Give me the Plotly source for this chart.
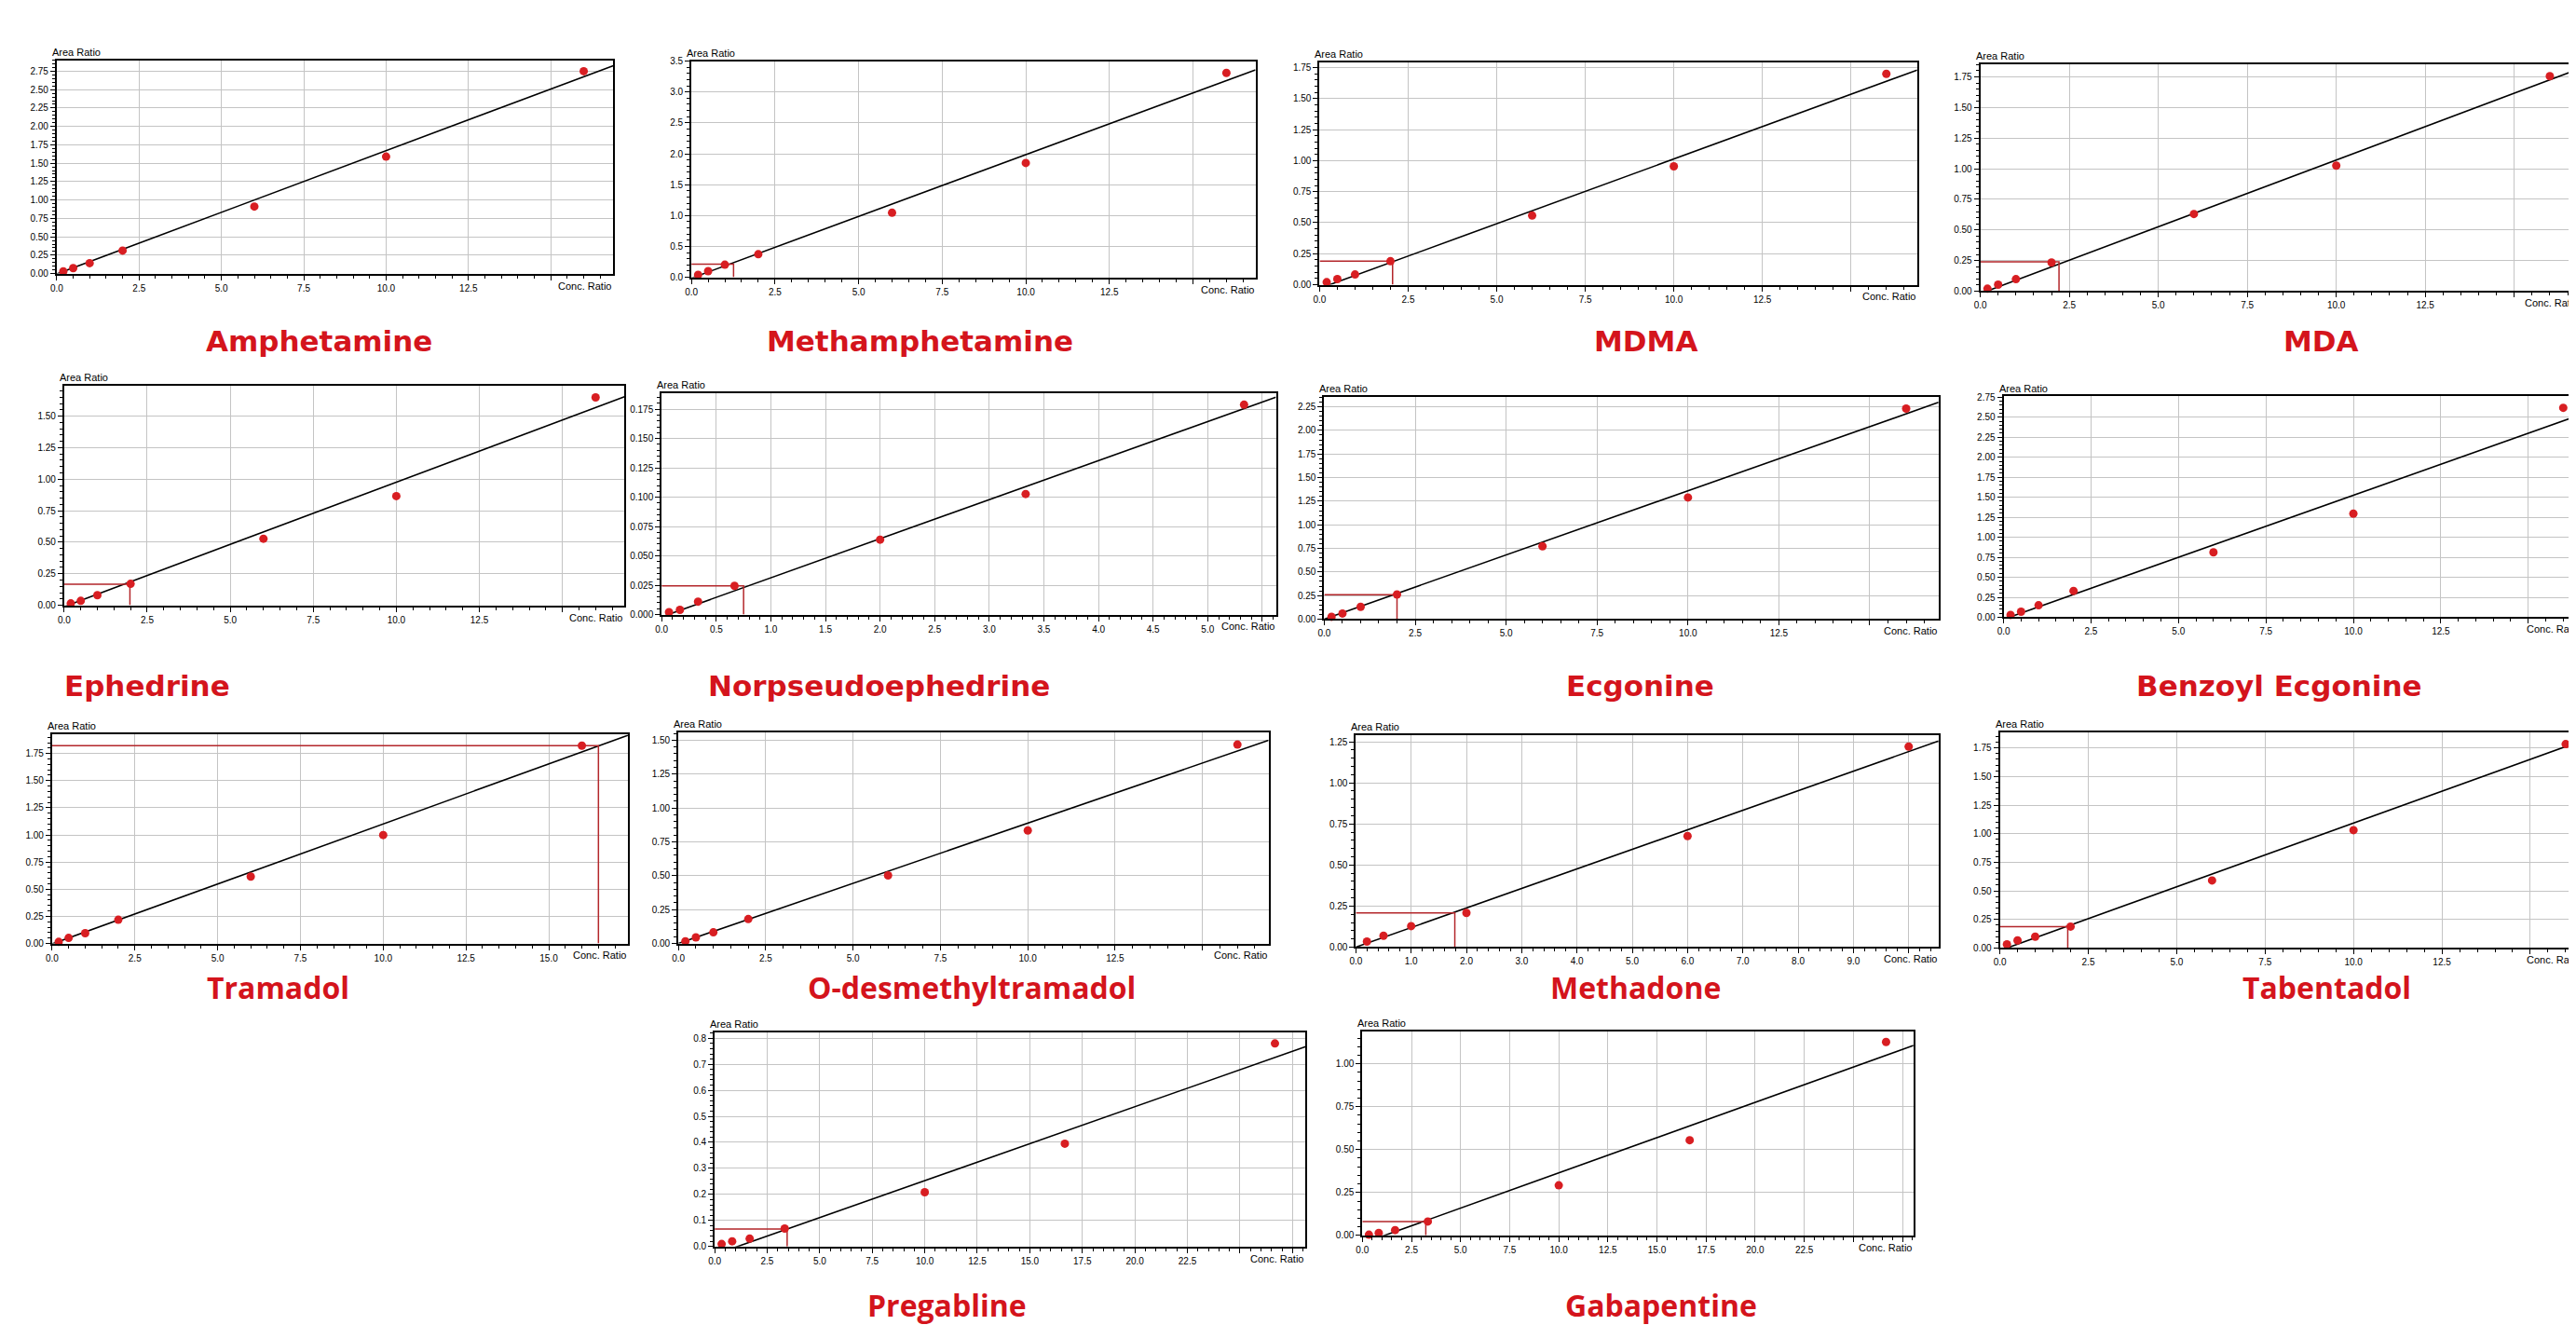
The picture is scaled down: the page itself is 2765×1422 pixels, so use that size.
import plotly.graph_objects as go

W, H = 2765, 1422

# ---------------- data ----------------
names = ["Amphetamine", "Methamphetamine", "MDMA", "MDA",
         "Ephedrine", "Norpseudoephedrine", "Ecgonine", "Benzoyl Ecgonine",
         "Tramadol", "O-desmethyltramadol", "Methadone", "Tabentadol",
         "Pregabline", "Gabapentine"]

amphetamine_conc = [0.2, 0.5, 1.0, 2.0, 6.0, 10.0, 16.0]
amphetamine_area = [0.03, 0.075, 0.142, 0.313, 0.911, 1.589, 2.75]
methamphetamine_conc = [0.2, 0.5, 1.0, 2.0, 6.0, 10.0, 16.0]
methamphetamine_area = [0.04, 0.10, 0.204, 0.373, 1.045, 1.851, 3.308]
mdma_conc = [0.2, 0.5, 1.0, 2.0, 6.0, 10.0, 16.0]
mdma_area = [0.02, 0.045, 0.082, 0.189, 0.557, 0.954, 1.70]
mda_conc = [0.2, 0.5, 1.0, 2.0, 6.0, 10.0, 16.0]
mda_area = [0.02, 0.053, 0.098, 0.234, 0.63, 1.025, 1.755]
ephedrine_conc = [0.2, 0.5, 1.0, 2.0, 6.0, 10.0, 16.0]
ephedrine_area = [0.015, 0.035, 0.08, 0.17, 0.528, 0.866, 1.649]
norpseudoephedrine_conc = [0.067, 0.167, 0.333, 0.667, 2.0, 3.333, 5.333]
norpseudoephedrine_area = [0.002, 0.004, 0.011, 0.0244, 0.0638, 0.1027, 0.1788]
ecgonine_conc = [0.2, 0.5, 1.0, 2.0, 6.0, 10.0, 16.0]
ecgonine_area = [0.025, 0.06, 0.13, 0.261, 0.772, 1.289, 2.231]
benzoylecgonine_conc = [0.2, 0.5, 1.0, 2.0, 6.0, 10.0, 16.0]
benzoylecgonine_area = [0.03, 0.07, 0.15, 0.33, 0.812, 1.295, 2.618]
tramadol_conc = [0.2, 0.5, 1.0, 2.0, 6.0, 10.0, 16.0]
tramadol_area = [0.014, 0.051, 0.094, 0.218, 0.616, 0.999, 1.822]
odesmethyltramadol_conc = [0.2, 0.5, 1.0, 2.0, 6.0, 10.0, 16.0]
odesmethyltramadol_area = [0.016, 0.045, 0.082, 0.18, 0.502, 0.834, 1.468]
methadone_conc = [0.2, 0.5, 1.0, 2.0, 6.0, 10.0]
methadone_area = [0.034, 0.069, 0.128, 0.208, 0.676, 1.22]
tabentadol_conc = [0.2, 0.5, 1.0, 2.0, 6.0, 10.0, 16.0]
tabentadol_area = [0.032, 0.067, 0.099, 0.188, 0.591, 1.031, 1.783]
pregabline_conc = [0.333, 0.833, 1.667, 3.333, 10.0, 16.667, 26.667]
pregabline_area = [0.0095, 0.02, 0.03, 0.069, 0.2085, 0.395, 0.78]
gabapentine_conc = [0.333, 0.833, 1.667, 3.333, 10.0, 16.667, 26.667]
gabapentine_area = [0.004, 0.014, 0.031, 0.081, 0.292, 0.555, 1.127]

conc = [amphetamine_conc, methamphetamine_conc, mdma_conc, mda_conc,
        ephedrine_conc, norpseudoephedrine_conc, ecgonine_conc, benzoylecgonine_conc,
        tramadol_conc, odesmethyltramadol_conc, methadone_conc, tabentadol_conc,
        pregabline_conc, gabapentine_conc]
area = [amphetamine_area, methamphetamine_area, mdma_area, mda_area,
        ephedrine_area, norpseudoephedrine_area, ecgonine_area, benzoylecgonine_area,
        tramadol_area, odesmethyltramadol_area, methadone_area, tabentadol_area,
        pregabline_area, gabapentine_area]

# calibration line (slope, intercept)
slopes = [0.1675, 0.200, 0.1043, 0.1091, 0.0987, 0.0333, 0.136, 0.155,
          0.1106, 0.0888, 0.119, 0.1115, 0.0284, 0.0411]
intercepts = [-0.005, -0.015, -0.030, -0.020, -0.011, -0.002, 0.0, -0.025,
              -0.005, 0.0, 0.0, -0.022, -0.031, -0.0465]

# red read-off marker (conc, area); None where absent
cross_x = [None, 1.26, 2.06, 2.21, 1.98, 0.75, 2.0, None,
           16.5, None, 1.79, 1.92, 3.45, 3.23]
cross_y = [None, 0.214, 0.189, 0.239, 0.167, 0.0244, 0.26, None,
           1.822, None, 0.208, 0.188, 0.0675, 0.081]

# axes
x_max = [16.9, 16.87, 16.87, 16.84, 16.87, 5.625, 16.89, 16.87,
         17.4, 16.89, 10.54, 16.87, 28.13, 28.06]
y_max = [2.9, 3.5, 1.795, 1.856, 1.744, 0.189, 2.35, 2.76,
         1.924, 1.555, 1.2875, 1.882, 0.8235, 1.19]
x_step = [2.5, 2.5, 2.5, 2.5, 2.5, 0.5, 2.5, 2.5, 2.5, 2.5, 1.0, 2.5, 2.5, 2.5]
x_last_label = [12.5, 12.5, 12.5, 12.5, 12.5, 5.0, 12.5, 12.5, 15.0, 12.5, 9.0, 12.5, 22.5, 22.5]
y_step = [0.25, 0.5, 0.25, 0.25, 0.25, 0.025, 0.25, 0.25, 0.25, 0.25, 0.25, 0.25, 0.1, 0.25]
y_decimals = [2, 1, 2, 2, 2, 3, 2, 2, 2, 2, 2, 2, 1, 2]

# ---------------- layout (pixel boxes: left, right, top, bottom) ----------------
boxes = [(46, 645, 51, 282), (729, 1336, 52, 286), (1405, 2048, 53, 294), (2116, 2761, 55, 301),
         (54, 657, 403, 641), (697, 1358, 411, 651), (1410, 2071, 416, 656), (2141, 2776, 415, 654),
         (41, 661, 781, 1007), (715, 1350, 779, 1007), (1444, 2071, 782, 1011), (2137, 2779, 779, 1012),
         (754, 1390, 1103, 1335), (1451, 2044, 1102, 1323)]
label_pos = [(328, 355), (975, 355), (1756, 355), (2483, 355),
             (143, 728), (931, 728), (1750, 728), (2438, 728),
             (284, 1054), (1031, 1054), (1745, 1054), (2489, 1054),
             (1004, 1398), (1772, 1398)]

RED = "#d4141c"
DOT = "#d81e22"
XRED = "#b3262a"
GRID = "#c4c4c4"
TICKFONT = dict(family="Liberation Sans, Arial, sans-serif", size=10, color="black")

fig = go.Figure()
layout = dict(width=W, height=H, margin=dict(l=0, r=0, t=0, b=0),
              paper_bgcolor="white", plot_bgcolor="white", showlegend=False)
annotations = []

for i in range(len(names)):
    n = i + 1
    L, R, T, B = boxes[i]
    clipped = R > W
    Rd = min(R, W)
    xm = x_max[i] * (Rd - L) / (R - L)
    xs = "x" if n == 1 else f"x{n}"
    ys = "y" if n == 1 else f"y{n}"

    nx = int(x_max[i] / x_step[i] + 1e-9)
    xvals = [round(k * x_step[i], 6) for k in range(nx + 1)]
    xtext = [f"{v:.1f}" if v <= x_last_label[i] + 1e-9 else "" for v in xvals]
    ny = int(y_max[i] / y_step[i] + 1e-9)
    yvals = [round(k * y_step[i], 6) for k in range(ny + 1)]
    ytext = [f"{v:.{y_decimals[i]}f}" for v in yvals]

    common = dict(showgrid=True, gridcolor=GRID, gridwidth=1.3, zeroline=False,
                  showline=True, linecolor="black", linewidth=2,
                  ticks="outside", ticklen=5, tickwidth=1, tickcolor="black",
                  tickfont=TICKFONT, tickmode="array", fixedrange=True)
    layout["xaxis" if n == 1 else f"xaxis{n}"] = dict(
        common, domain=[L / W, Rd / W], range=[0, xm], anchor=ys,
        tickvals=xvals, ticktext=xtext, mirror=True,
        minor=dict(tickmode="linear", tick0=0, dtick=x_step[i] / 5, ticks="outside",
                   ticklen=3, tickcolor="black", showgrid=False))
    layout["yaxis" if n == 1 else f"yaxis{n}"] = dict(
        common, domain=[1 - B / H, 1 - T / H], range=[0, y_max[i]], anchor=xs,
        tickvals=yvals, ticktext=ytext, mirror=(not clipped),
        minor=dict(tickmode="linear", tick0=0, dtick=y_step[i] / 5, ticks="outside",
                   ticklen=3, tickcolor="black", showgrid=False))

    # calibration line
    lx = [0, x_max[i]]
    fig.add_trace(go.Scatter(x=lx, y=[slopes[i] * v + intercepts[i] for v in lx],
                             mode="lines", line=dict(color="black", width=1.6),
                             xaxis=xs, yaxis=ys, hoverinfo="skip"))
    # red read-off lines
    if cross_x[i] is not None:
        fig.add_trace(go.Scatter(x=[0, cross_x[i], cross_x[i]], y=[cross_y[i], cross_y[i], 0],
                                 mode="lines", line=dict(color=XRED, width=1.5),
                                 xaxis=xs, yaxis=ys, hoverinfo="skip"))
    # calibration points
    fig.add_trace(go.Scatter(x=conc[i], y=area[i], mode="markers",
                             marker=dict(color=DOT, size=9), cliponaxis=False,
                             xaxis=xs, yaxis=ys))

    # axis captions
    annotations.append(dict(text="Area Ratio", xref="paper", yref="paper",
                            x=(L - 7) / W, y=1 - (T - 1) / H, xanchor="left", yanchor="bottom",
                            showarrow=False, font=dict(family="Liberation Sans, Arial", size=11, color="black")))
    annotations.append(dict(text="Conc. Ratio", xref="paper", yref="paper",
                            x=min(R, W - 2) / W, y=1 - (B + 5) / H, xanchor="right", yanchor="top",
                            showarrow=False, font=dict(family="Liberation Sans, Arial", size=11, color="black")))
    # compound name
    cx, cy = label_pos[i]
    if i < 8:
        f = dict(family="DejaVu Sans, Verdana, sans-serif", size=31, color=RED)
    else:
        f = dict(family="Open Sans, Lato, sans-serif", size=32, color=RED)
    annotations.append(dict(text=f"<b>{names[i]}</b>", xref="paper", yref="paper",
                            x=cx / W, y=1 - cy / H, xanchor="center", yanchor="middle",
                            showarrow=False, font=f))

layout["annotations"] = annotations
fig.update_layout(**layout)
fig.write_html("out.html")
